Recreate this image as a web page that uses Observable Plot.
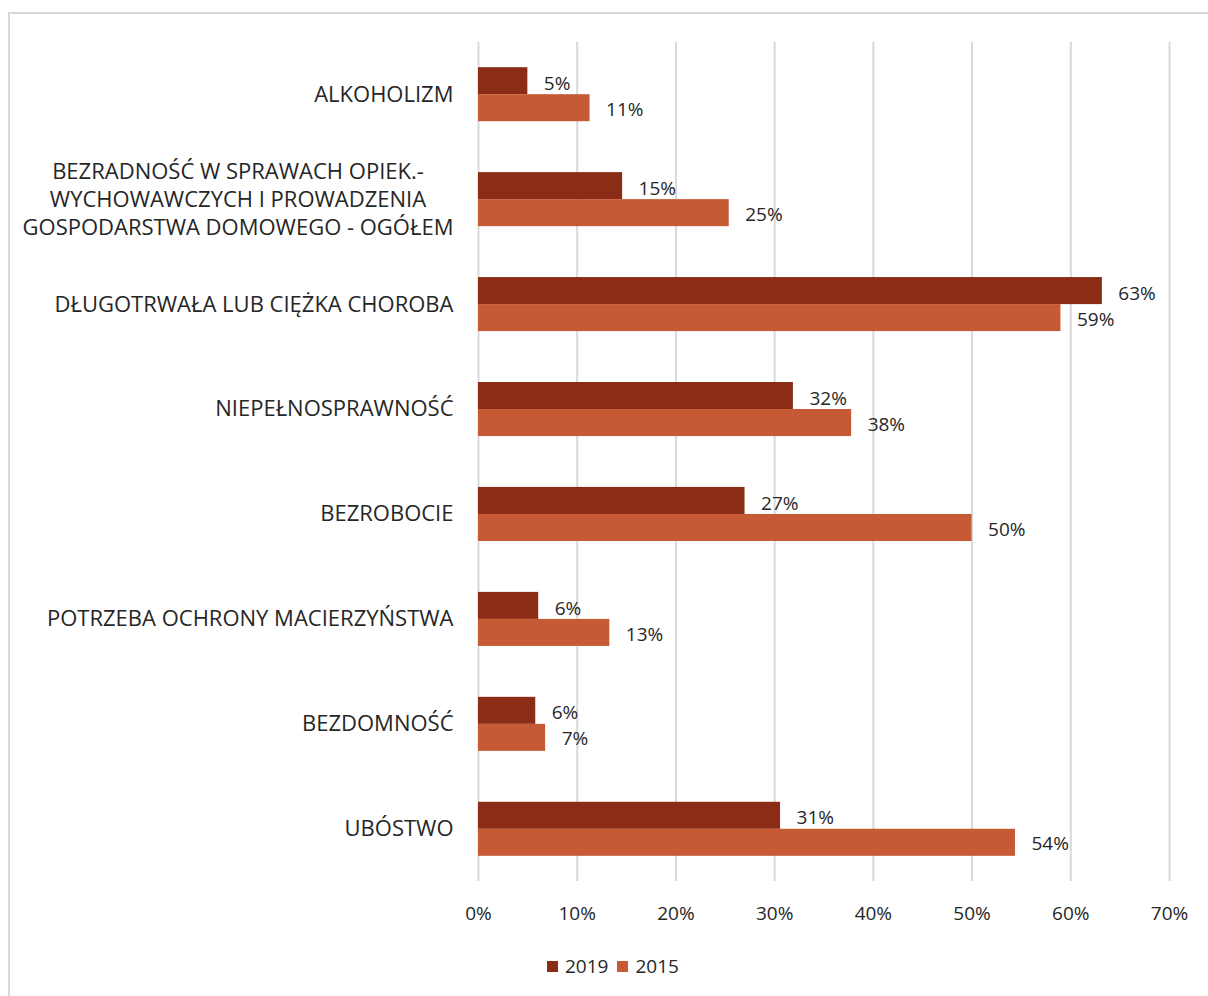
<!DOCTYPE html>
<html>
<head>
<meta charset="utf-8">
<script src="https://cdn.jsdelivr.net/npm/d3@7"></script>
<script src="https://cdn.jsdelivr.net/npm/@observablehq/plot@0.6"></script>
<style>
  html, body { margin: 0; padding: 0; background: #fff; overflow: hidden; width: 1208px; height: 996px; }
  body { position: relative; font-family: "Open Sans", "Lato", sans-serif; color: #262626; }
  #frame { position: absolute; left: 8px; top: 12px; width: 1400px; height: 1200px; border-left: 2px solid #d9d9d9; border-top: 2px solid #d9d9d9; }
  #chart { position: absolute; left: 0; top: 0; }
  #legend { position: absolute; left: 547px; top: 953px; display: flex; align-items: center; font-size: 19px; color: #262626; }
  .sw { width: 11px; height: 11px; display: inline-block; margin-right: 7px; }
  .item { display: flex; align-items: center; margin-right: 9px; }
</style>
</head>
<body>
<div id="frame"></div>
<div id="chart"></div>
<div id="legend"></div>
<script>
const categories = [
  "ALKOHOLIZM",
  "BEZRADNOŚĆ W SPRAWACH OPIEK.-\nWYCHOWAWCZYCH I PROWADZENIA\nGOSPODARSTWA DOMOWEGO - OGÓŁEM",
  "DŁUGOTRWAŁA LUB CIĘŻKA CHOROBA",
  "NIEPEŁNOSPRAWNOŚĆ",
  "BEZROBOCIE",
  "POTRZEBA OCHRONY MACIERZYŃSTWA",
  "BEZDOMNOŚĆ",
  "UBÓSTWO"
];
const values2019 = [5.0, 14.6, 63.2, 31.9, 27.0, 6.1, 5.8, 30.6];
const values2015 = [11.3, 25.4, 59.0, 37.8, 50.0, 13.3, 6.8, 54.4];
const seriesNames = ["2019", "2015"];
const seriesColors = ["#8b2c17", "#c55a35"];
const xTicks = [0, 10, 20, 30, 40, 50, 60, 70];

const d2019 = categories.map((c, i) => ({category: c, value: values2019[i]}));
const d2015 = categories.map((c, i) => ({category: c, value: values2015[i]}));

const half = 27;
const fmt = d => Math.round(d.value) + "%";

const chart = Plot.plot({
  width: 1208,
  height: 940,
  marginLeft: 478,
  marginRight: 39,
  marginTop: 42,
  marginBottom: 59,
  style: {fontFamily: "'Open Sans', Lato, sans-serif", fontSize: "19px", color: "#262626", background: "transparent"},
  x: {domain: [0, 70], ticks: xTicks, tickFormat: d => d + "%", tickSize: 0, tickPadding: 25, label: null},
  y: {domain: categories, paddingInner: 0.485, paddingOuter: 0.24, round: false, label: null},
  marks: [
    Plot.ruleX(xTicks, {stroke: "#d9d9d9", strokeWidth: 2}),
    Plot.axisY({tickSize: 0, tickPadding: 25, fontSize: 22, lineHeight: 1.27, dy: -2, label: null}),
    Plot.barX(d2019, {x: "value", y: "category", fill: seriesColors[0], insetBottom: half}),
    Plot.barX(d2015, {x: "value", y: "category", fill: seriesColors[1], insetTop: half}),
    Plot.text(d2019, {x: "value", y: "category", text: fmt, dx: 16, dy: -11, textAnchor: "start", fill: "#262626", fontSize: 19}),
    Plot.text(d2015, {x: "value", y: "category", text: fmt, dx: 16, dy: 15, textAnchor: "start", fill: "#262626", fontSize: 19})
  ]
});
document.getElementById("chart").appendChild(chart);

// center-align lines of multi-line y tick labels, keeping the block right-aligned
chart.querySelectorAll("[aria-label='y-axis tick label'] text").forEach(t => {
  const spans = t.querySelectorAll("tspan");
  if (spans.length > 1) {
    const w = t.getBBox().width;
    t.setAttribute("text-anchor", "middle");
    spans.forEach(s => { if (s.getAttribute("x") !== null) s.setAttribute("x", -w / 2); });
    if (!spans[0].hasAttribute("x")) {
      const tr = t.getAttribute("transform") || "";
      t.setAttribute("transform", tr + ` translate(${-w / 2},0)`);
    }
  }
});

const legend = document.getElementById("legend");
seriesNames.forEach((n, i) => {
  const it = document.createElement("div");
  it.className = "item";
  it.innerHTML = `<span class="sw" style="background:${seriesColors[i]}"></span><span>${n}</span>`;
  legend.appendChild(it);
});
</script>
</body>
</html>
